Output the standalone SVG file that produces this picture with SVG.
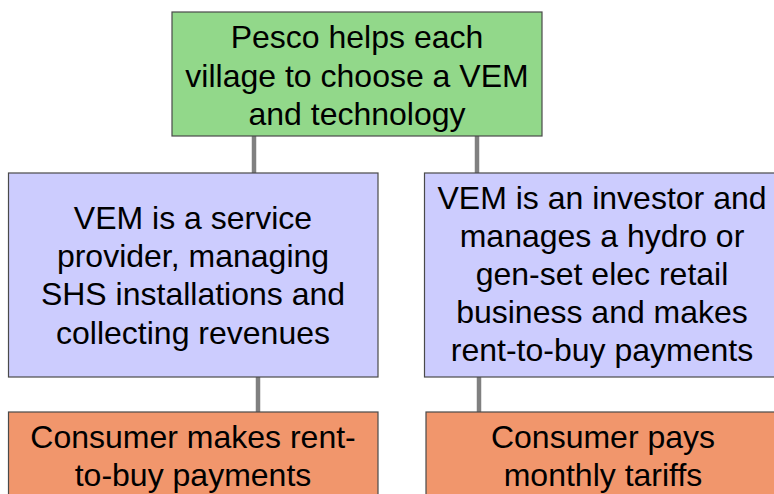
<svg xmlns="http://www.w3.org/2000/svg" width="774" height="494" viewBox="0 0 774 494">
<style>
.box{stroke:#4a4a4a;stroke-width:1.2}
.g{fill:#92d88a}
.p{fill:#ccccfe}
.o{fill:#f1966c}
.c{stroke:#808080;stroke-width:4.5;fill:none}
text{font-family:"Liberation Sans",Arial,sans-serif;font-size:32px;fill:#000;text-anchor:middle}
</style>
<rect width="774" height="494" fill="#fff"/>
<g id="connectors">
<line class="c" x1="254" y1="136" x2="254" y2="173"/>
<line class="c" x1="477" y1="136" x2="477" y2="173"/>
<line class="c" x1="258" y1="377" x2="258" y2="412"/>
<line class="c" x1="479" y1="377" x2="479" y2="412"/>
</g>
<g id="top">
<rect class="box g" x="172" y="12" width="370" height="124"/>
<text x="357" y="48">Pesco helps each</text>
<text x="357" y="86.5">village to choose a VEM</text>
<text x="357" y="125">and technology</text>
</g>
<g id="left">
<rect class="box p" x="8.5" y="173" width="369.5" height="204"/>
<text x="193" y="228.5">VEM is a service</text>
<text x="193" y="266.9">provider, managing</text>
<text x="193" y="305.3">SHS installations and</text>
<text x="193" y="343.7">collecting revenues</text>
</g>
<g id="right">
<rect class="box p" x="424.5" y="173" width="360" height="204"/>
<text x="602" y="208.5">VEM is an investor and</text>
<text x="602" y="246.5">manages a hydro or</text>
<text x="602" y="284.5">gen-set elec retail</text>
<text x="602" y="322.5">business and makes</text>
<text x="602" y="360.5">rent-to-buy payments</text>
</g>
<g id="left-bottom">
<rect class="box o" x="8.5" y="412" width="369.5" height="100"/>
<text x="193" y="448">Consumer makes rent-</text>
<text x="193" y="486">to-buy payments</text>
</g>
<g id="right-bottom">
<rect class="box o" x="426" y="412" width="360" height="100"/>
<text x="603" y="448">Consumer pays</text>
<text x="603" y="486">monthly tariffs</text>
</g>
</svg>
